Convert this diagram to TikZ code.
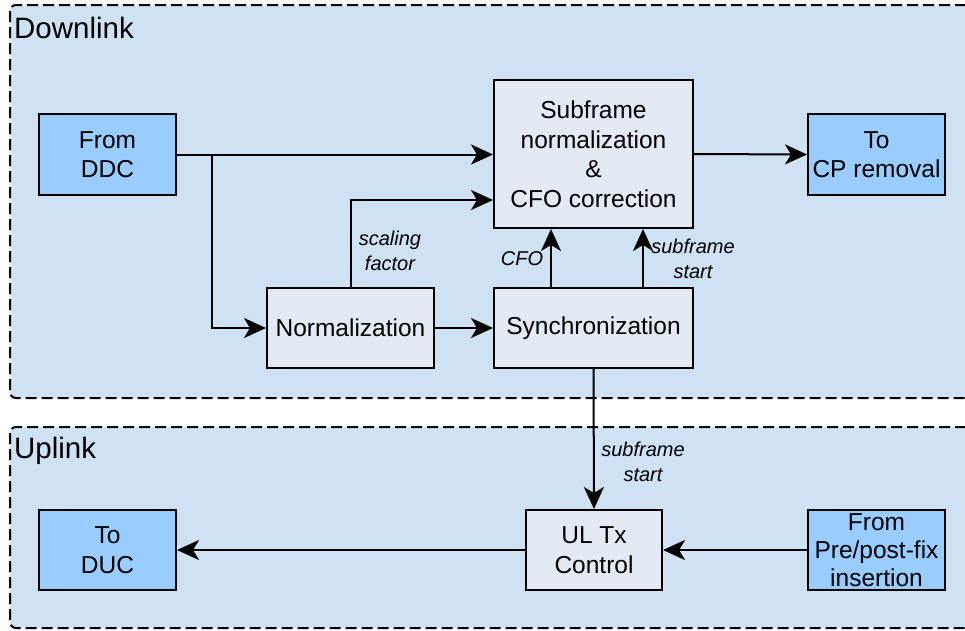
\documentclass[tikz,border=0pt]{standalone}
\usepackage{fontspec}
\setmainfont{Liberation Sans}
\usetikzlibrary{arrows.meta}
\definecolor{groupfill}{HTML}{CFE2F3}
\definecolor{blockfill}{HTML}{E3EAF3}
\definecolor{portfill}{HTML}{99CCFF}
\tikzset{
  group/.style={draw=black, line width=2pt, fill=groupfill, rounded corners=6pt,
    dash pattern=on 11pt off 5pt},
  block/.style={draw=black, line width=2pt, fill=blockfill, align=center,
    font=\fontsize{24.5}{29.5}\selectfont, inner sep=0pt},
  port/.style={block, fill=portfill},
  sig/.style={line width=2pt, -{Stealth[length=22pt,width=20pt,inset=6pt]}},
  lbl/.style={font=\fontsize{20}{24.5}\selectfont\itshape, align=center, inner sep=0pt},
  title/.style={font=\fontsize{29.5}{33}\selectfont, anchor=west, inner sep=0pt}
}
\begin{document}
\begin{tikzpicture}[x=1pt,y=-1pt]
\useasboundingbox (0,0) rectangle (965,630);
\clip (0,0) rectangle (965,630);
% regions
\draw[group] (10,5) rectangle (990,398);
\draw[group] (10,427) rectangle (990,628);
\node[title] (dl) at (14,28) {Downlink};
\node[title] (ul) at (14,451) {Uplink};

% downlink blocks
\node[port, minimum width=137pt, minimum height=81pt] (ddc) at (107.5,154.5) {From\\DDC};
\node[block, minimum width=199pt, minimum height=148pt] (sfn) at (593.5,154) {Subframe\\normalization\\\&\\CFO correction};
\node[port, minimum width=137pt, minimum height=81pt] (cp) at (876.5,154.5) {To\\CP removal};
\node[block, minimum width=167pt, minimum height=80pt] (norm) at (350.5,328) {Normalization};
\node[block, minimum width=199pt, minimum height=80pt] (sync) at (593.5,328) {Synchronization};

% uplink blocks
\node[port, minimum width=137pt, minimum height=80pt] (duc) at (107.5,550) {To\\DUC};
\node[block, minimum width=136pt, minimum height=80pt] (ultx) at (594,550) {UL Tx\\Control};
\node[port, minimum width=137pt, minimum height=80pt, font=\fontsize{24.5}{28}\selectfont] (pre) at (876.5,550) {From\\Pre/post-fix\\insertion};

% junction on the DDC output
\coordinate (j) at (212,154);

% connectors
\draw[sig] (ddc.east) -- (sfn.west |- ddc.east);
\draw[sig] (j) |- (norm.west);
\draw[sig] (norm.north) |- ([yshift=-46pt]sfn.west);
\draw[sig] (norm.east) -- (sync.west);
\draw[sig] (sync.north -| 551,0) -- (sfn.south -| 551,0);
\draw[sig] (sync.north -| 643,0) -- (sfn.south -| 643,0);
\draw[sig] (sfn.east) -- (cp.west);
\draw[sig] (sync.south) -- (ultx.north);
\draw[sig] (pre.west) -- (ultx.east);
\draw[sig] (ultx.west) -- (duc.east);

% signal labels
\node[lbl] (sf) at (390,251) {scaling\\factor};
\node[lbl] (cfo) at (522,259) {CFO};
\node[lbl] (ss1) at (693,259) {subframe\\start};
\node[lbl] (ss2) at (643,462) {subframe\\start};
\end{tikzpicture}
\end{document}
